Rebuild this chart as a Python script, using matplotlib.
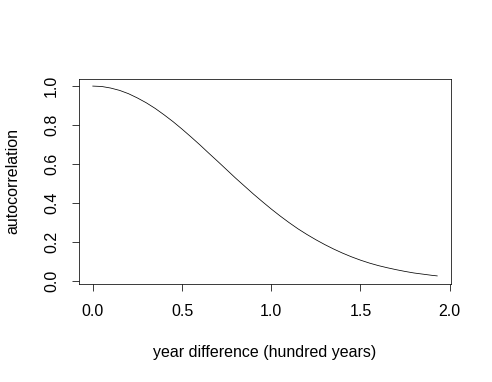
import matplotlib
matplotlib.use('Agg')
import matplotlib.pyplot as plt

# values
year_diff = [0.00, 0.05, 0.10, 0.15, 0.20, 0.25, 0.30, 0.35, 0.40, 0.45,
             0.50, 0.55, 0.60, 0.65, 0.70, 0.75, 0.80, 0.85, 0.90, 0.95,
             1.00, 1.05, 1.10, 1.15, 1.20, 1.25, 1.30, 1.35, 1.40, 1.45,
             1.50, 1.55, 1.60, 1.65, 1.70, 1.75, 1.80, 1.85, 1.90, 1.93]
autocorr = [1.000, 0.998, 0.990, 0.978, 0.961, 0.939, 0.914, 0.885, 0.852, 0.817,
            0.779, 0.739, 0.698, 0.655, 0.613, 0.570, 0.527, 0.486, 0.445, 0.406,
            0.368, 0.332, 0.298, 0.266, 0.237, 0.210, 0.185, 0.162, 0.141, 0.122,
            0.105, 0.090, 0.077, 0.066, 0.056, 0.047, 0.039, 0.033, 0.027, 0.024]
x_ticks = [0.0, 0.5, 1.0, 1.5, 2.0]
y_ticks = [0.0, 0.2, 0.4, 0.6, 0.8, 1.0]

plt.rcParams['font.family'] = ['Liberation Sans', 'DejaVu Sans']

fig = plt.figure(figsize=(492 / 72, 382 / 72), dpi=72)
ax = fig.add_axes([79 / 492, 1 - 283.5 / 382, 372 / 492, 205 / 382])
ax.plot(year_diff, autocorr, color='black', linewidth=0.75)

# R-style 4% padding
xr = max(year_diff) - min(year_diff)
yr = max(autocorr) - min(autocorr)
ax.set_xlim(min(year_diff) - 0.04 * xr, max(year_diff) + 0.04 * xr)
ax.set_ylim(min(autocorr) - 0.04 * yr, max(autocorr) + 0.04 * yr)

ax.set_xticks(x_ticks)
ax.set_xticklabels(['0.0', '0.5', '1.0', '1.5', '2.0'])
ax.set_yticks(y_ticks)
ax.set_yticklabels(['0.0', '0.2', '0.4', '0.6', '0.8', '1.0'], rotation=90, va='center')
ax.tick_params(direction='out', length=7, width=0.75, labelsize=16, pad=13)
for s in ax.spines.values():
    s.set_linewidth(0.75)

ax.set_xlabel('year difference (hundred years)', fontsize=16, va='center')
ax.set_ylabel('autocorrelation', fontsize=16, va='center')
ax.xaxis.set_label_coords(0.5, (283.5 - 353) / 205)
ax.yaxis.set_label_coords((13 - 79) / 372, 0.5)

fig.savefig('out.png', dpi=72)
